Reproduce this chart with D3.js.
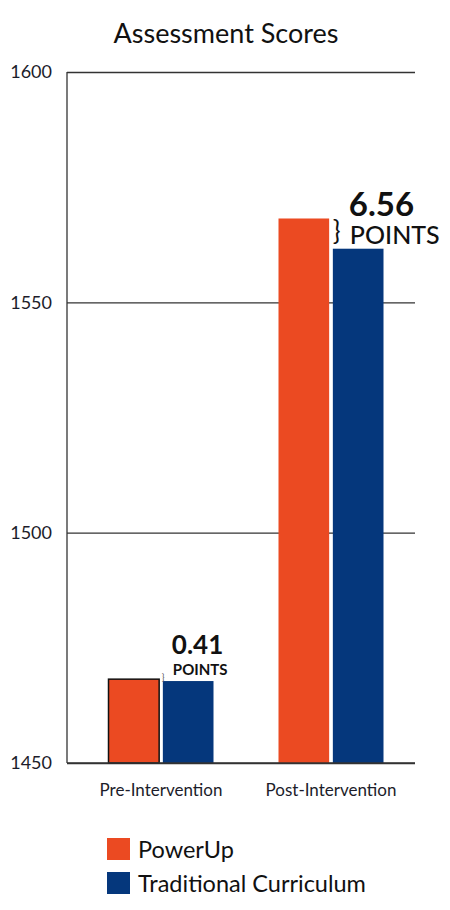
<!DOCTYPE html>
<html>
<head>
<meta charset="utf-8">
<script src="https://cdn.jsdelivr.net/npm/d3@7"></script>
<style>
  html, body { margin: 0; padding: 0; background: #fff; }
  svg { display: block; font-family: Lato, "Open Sans", sans-serif; }
</style>
</head>
<body>
<svg id="chart" width="450" height="910"></svg>
<script>
const categories = ["Pre-Intervention", "Post-Intervention"];
const series = ["PowerUp", "Traditional Curriculum"];
const powerUp = [1468.2, 1568.2];
const traditional = [1467.79, 1561.64];
const yTicks = [1450, 1500, 1550, 1600];
const diffLabels = ["0.41", "6.56"];
const colors = ["#EB4A22", "#05377C"];

const svg = d3.select("#chart");
const y = d3.scaleLinear().domain([1450, 1600]).range([763, 72]);
const x0 = d3.scaleBand().domain(categories).range([76, 416]);
const x1 = d3.scaleBand().domain(series).range([0, 105]).paddingInner(0.068);
const axisLeft = 67, axisRight = 415;

// title
svg.append("text").attr("x", 226).attr("y", 43).attr("text-anchor", "middle")
  .attr("font-size", 27).attr("fill", "#111").text("Assessment Scores");

// gridlines
const grid = d3.axisLeft(y).tickValues(yTicks).tickSize(-(axisRight - axisLeft)).tickFormat(d => d);
const gAxis = svg.append("g").attr("transform", `translate(${axisLeft},0)`).call(grid);
gAxis.select(".domain").remove();
gAxis.selectAll(".tick line").attr("stroke", "#333").attr("stroke-width", 1.3);
gAxis.selectAll(".tick text").attr("x", -15).attr("font-size", 18).attr("fill", "#1c1c2a")
  .attr("font-family", "Lato, sans-serif");
svg.append("line").attr("x1", axisLeft).attr("x2", axisLeft).attr("y1", y(1600)).attr("y2", y(1450))
  .attr("stroke", "#333").attr("stroke-width", 1.3);

// bars
const rows = categories.map((c, i) => ({ cat: c, vals: [powerUp[i], traditional[i]] }));
const groups = svg.append("g").selectAll("g").data(rows).join("g")
  .attr("transform", d => `translate(${x0(d.cat) + x0.bandwidth() / 2 - 52.5},0)`);
groups.selectAll("rect").data((d, gi) => d.vals.map((v, si) => ({ v, si, gi }))).join("rect")
  .attr("x", d => x1(series[d.si]))
  .attr("width", x1.bandwidth())
  .attr("y", d => y(d.v))
  .attr("height", d => y(1450) - y(d.v))
  .attr("fill", d => colors[d.si])
  .attr("stroke", d => (d.gi === 0 && d.si === 0) ? "#111" : "none")
  .attr("stroke-width", 1.5);

svg.append("line").attr("x1", axisLeft).attr("x2", axisRight).attr("y1", y(1450)).attr("y2", y(1450))
  .attr("stroke", "#333").attr("stroke-width", 1.3);

// category labels
svg.append("g").selectAll("text").data(categories).join("text")
  .attr("x", d => x0(d) + x0.bandwidth() / 2)
  .attr("y", 796).attr("text-anchor", "middle").attr("font-size", 17).attr("fill", "#1c1c2a")
  .text(d => d);

// annotations
const gx = i => x0(categories[i]) + x0.bandwidth() / 2 - 52.5 + x1(series[1]);
// pre
svg.append("text").attr("x", gx(0) + 9).attr("y", y(powerUp[0]) - 25)
  .attr("font-size", 26).attr("font-weight", 700).attr("fill", "#111").text(diffLabels[0]);
svg.append("text").attr("x", gx(0) + 10).attr("y", y(powerUp[0]) - 4)
  .attr("font-size", 15).attr("font-weight", 700).attr("fill", "#111").text("POINTS");
svg.append("text").attr("x", gx(0) - 1).attr("y", y(powerUp[0]) + 1)
  .attr("font-size", 9).attr("fill", "#555").text("}");
// post
svg.append("text").attr("x", gx(1) + 16).attr("y", y(powerUp[1]) - 2)
  .attr("font-size", 33).attr("font-weight", 700).attr("fill", "#111").text(diffLabels[1]);
svg.append("text").attr("x", gx(1)).attr("y", y(powerUp[1]) + 22)
  .attr("font-size", 26).attr("fill", "#111").text("}");
svg.append("text").attr("x", gx(1) + 17).attr("y", y(powerUp[1]) + 26)
  .attr("font-size", 25).attr("font-weight", 500).attr("fill", "#111").text("POINTS");

// legend
const leg = svg.append("g").selectAll("g").data(series).join("g")
  .attr("transform", (d, i) => `translate(107,${838 + i * 34})`);
leg.append("rect").attr("width", 23).attr("height", 22).attr("fill", (d, i) => colors[i]);
leg.append("text").attr("x", 31).attr("y", 20).attr("font-size", 23.5).attr("fill", "#111").text(d => d);
</script>
</body>
</html>
